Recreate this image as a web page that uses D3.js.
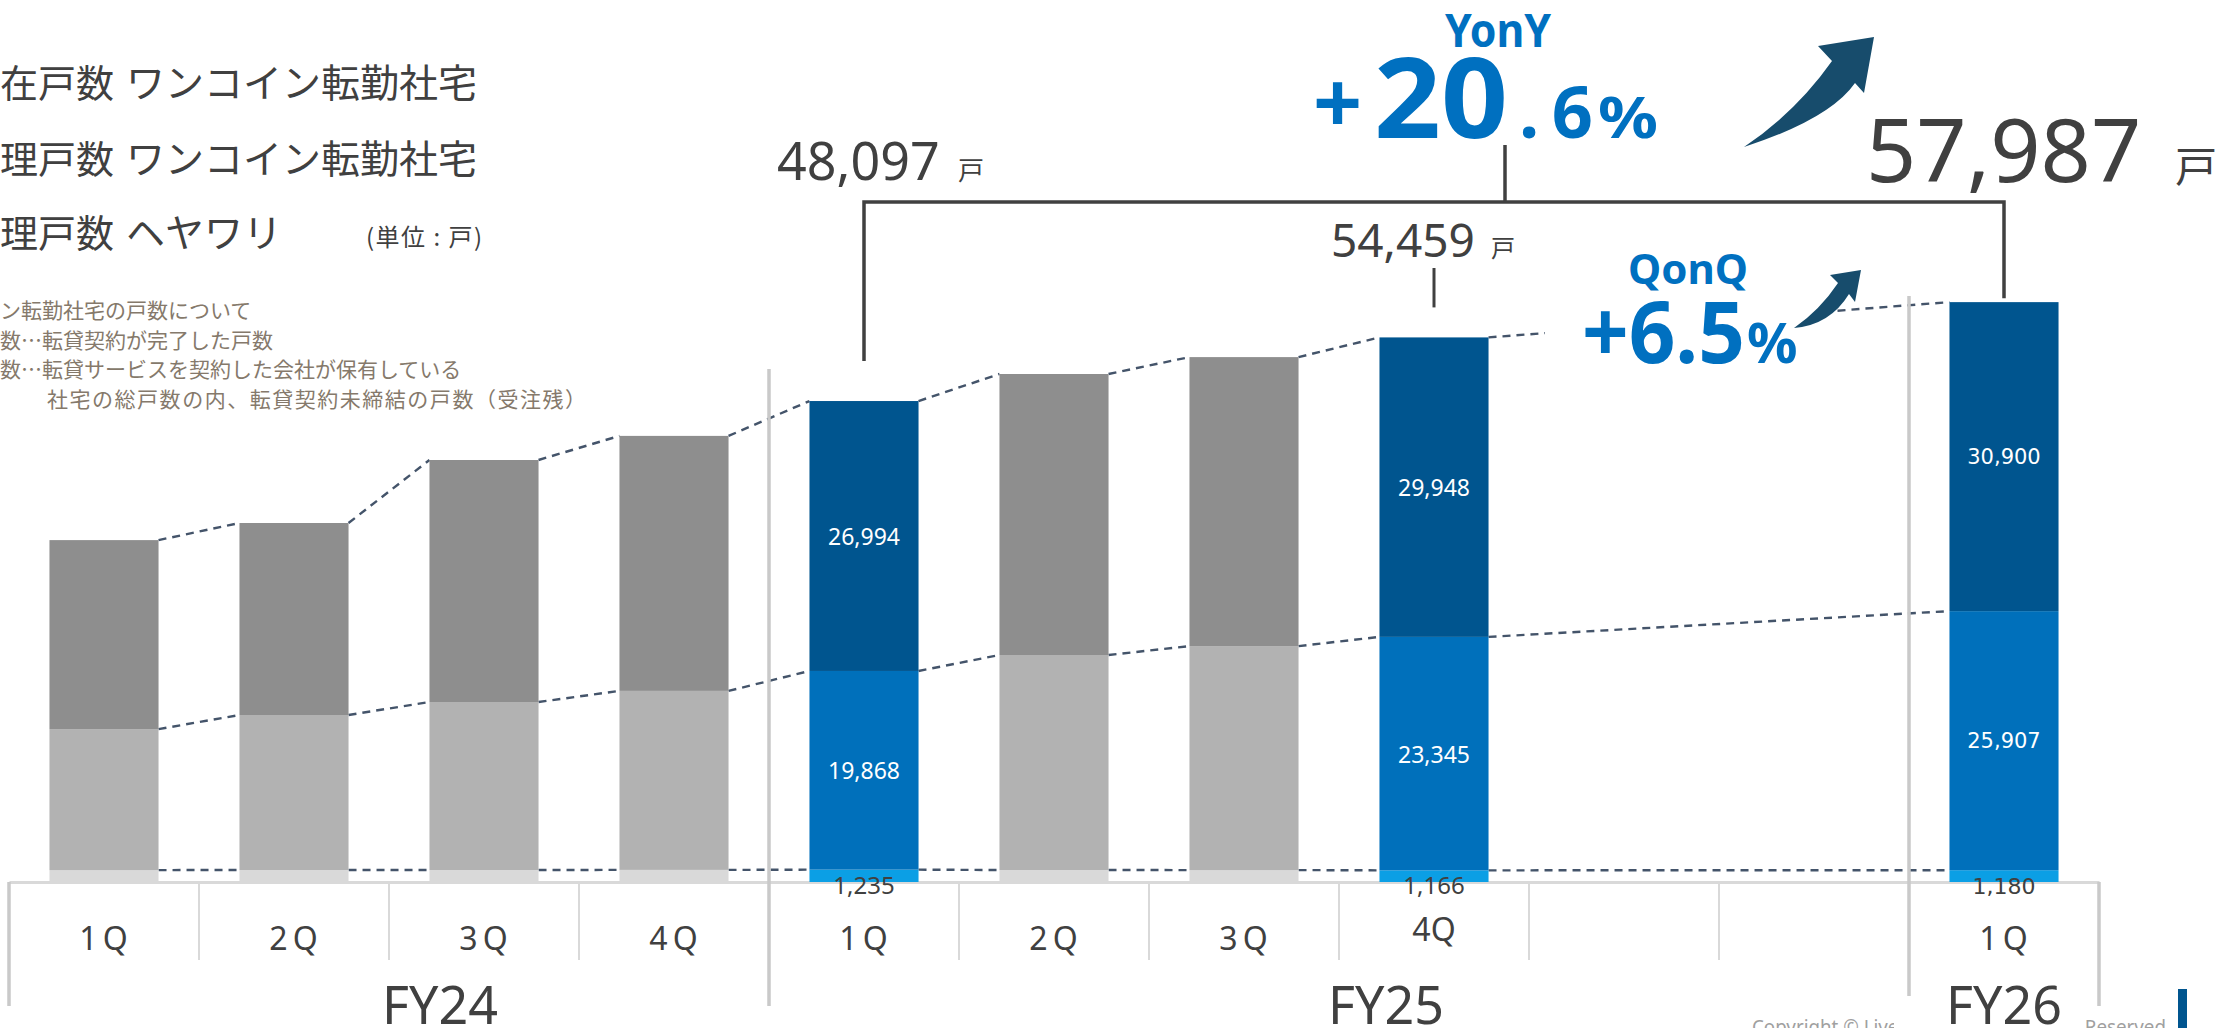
<!DOCTYPE html>
<html>
<head>
<meta charset="utf-8">
<script src="https://cdn.jsdelivr.net/npm/d3@7"></script>
<style>
  html, body { margin: 0; padding: 0; background: #ffffff; }
  svg { display: block; }
</style>
</head>
<body>
<svg id="chart" width="2225" height="1028"></svg>
<script>
// ---- data -------------------------------------------------------------
// one slot per quarter; FY25 has two empty trailing slots before FY26
const slotKeys = ["FY24-1Q","FY24-2Q","FY24-3Q","FY24-4Q",
                  "FY25-1Q","FY25-2Q","FY25-3Q","FY25-4Q","FY25-x1","FY25-x2",
                  "FY26-1Q"];
const quarterLabels = ["1Q","2Q","3Q","4Q","1Q","2Q","3Q","4Q","","","1Q"];
const fiscalYears = ["FY24","FY25","FY26"];
const fiscalYearFirstSlot = [0, 4, 10];

// 管理戸数 ヘヤワリ (bottom)
const heyawariUnits  = [1190, 1200, 1200, 1210, 1235, 1200, 1190, 1166, null, null, 1180];
// 管理戸数 ワンコイン転勤社宅 (middle)
const managedUnits   = [14100, 15500, 16800, 17900, 19868, 21500, 22400, 23345, null, null, 25907];
// 潜在戸数 ワンコイン転勤社宅 (top)
const potentialUnits = [18900, 19200, 24200, 25500, 26994, 28100, 28900, 29948, null, null, 30900];
// quarters drawn in colour and labelled
const highlighted = [false, false, false, false, true, false, false, true, false, false, true];

const legendItems = ["在戸数\u3000ワンコイン転勤社宅", "理戸数\u3000ワンコイン転勤社宅", "理戸数\u3000ヘヤワリ"];
const noteLines = ["ン転勤社宅の戸数について",
                   "数…転貸契約が完了した戸数",
                   "数…転貸サービスを契約した会社が保有している",
                   "社宅の総戸数の内、転貸契約未締結の戸数（受注残）"];
const footerText = "Copyright © Livero Co., Ltd. All Rights Reserved.";

// ---- setup ------------------------------------------------------------
const svg = d3.select("#chart");
const LATIN = "'Noto Sans', 'Noto Sans CJK JP', sans-serif";
const JP = "'Noto Sans CJK JP', 'Noto Sans', sans-serif";
const TEXT = "#404040";
const ACCENT = "#0070c0";

const x = d3.scaleBand().domain(slotKeys).range([9, 2099])
  .paddingInner(0.426).paddingOuter(0.213);
const y = d3.scaleLinear().domain([0, 60000]).range([882, 282]);
const bw = x.bandwidth();
const slotEdge = i => x.range()[0] + i * x.step();

const seriesValues = [heyawariUnits, managedUnits, potentialUnits];
const grayFill = ["#d9d9d9", "#b2b2b2", "#8e8e8e"];
const blueFill = ["#0b9fe5", "#0070bb", "#00558f"];

// stacked rows per slot
const bars = slotKeys.map((key, i) => {
  if (heyawariUnits[i] == null) return null;
  let acc = 0;
  const segs = seriesValues.map((vals, s) => {
    const y0 = acc; acc += vals[i];
    return { key, i, s, value: vals[i], y0, y1: acc };
  });
  return { key, i, segs, total: acc };
}).filter(d => d);

// ---- footer (mostly hidden behind the FY26 label) ------------------------
svg.append("text").attr("x", 1752).attr("y", 1034).attr("font-family", LATIN)
  .attr("font-size", 19).attr("fill", "#a0a0a0").attr("textLength", 419)
  .attr("lengthAdjust", "spacingAndGlyphs").text(footerText);

// ---- dashed connectors between neighbouring bars -----------------------
const gConn = svg.append("g");
for (let b = 0; b < bars.length - 1; b++) {
  const a = bars[b], c = bars[b + 1];
  for (let s = 0; s < 3; s++) {
    gConn.append("line")
      .attr("x1", x(a.key) + bw).attr("y1", y(a.segs[s].y1))
      .attr("x2", x(c.key)).attr("y2", y(c.segs[s].y1))
      .attr("stroke", "#44546a").attr("stroke-width", 2.4)
      .attr("stroke-dasharray", "8,6");
  }
}

// ---- category axis -----------------------------------------------------
const axis = d3.axisBottom(x).tickSize(0).tickPadding(0)
  .tickFormat((d, i) => quarterLabels[i]);
const gAxis = svg.append("g").attr("transform", `translate(0,${y(0)})`).call(axis);
gAxis.select(".domain").attr("stroke", "#d9d9d9").attr("stroke-width", 3);
gAxis.selectAll(".tick text")
  .attr("font-family", LATIN).attr("font-size", 32).attr("fill", TEXT)
  .attr("y", (d, i) => i === 7 ? 59 : 68)
  .attr("dy", null)
  .attr("letter-spacing", (d, i) => i === 7 ? 0 : 5)
  .attr("dx", (d, i) => i === 7 ? 0 : 2);

// thin separators between quarters
const thinIdx = d3.range(1, 11).filter(i => !fiscalYearFirstSlot.includes(i));
svg.append("g").selectAll("line").data(thinIdx).join("line")
  .attr("x1", i => slotEdge(i)).attr("x2", i => slotEdge(i))
  .attr("y1", y(0)).attr("y2", y(0) + 78)
  .attr("stroke", "#d9d9d9").attr("stroke-width", 2);

// fiscal-year borders
const borders = [
  { i: 0,  top: y(0) },
  { i: 4,  top: 369 },
  { i: 10, top: 296 },
  { i: 11, top: y(0) }
];
svg.append("g").selectAll("line").data(borders).join("line")
  .attr("x1", d => slotEdge(d.i)).attr("x2", d => slotEdge(d.i))
  .attr("y1", d => d.top).attr("y2", y(0) + 124)
  .attr("stroke", "#c9c9c9").attr("stroke-width", 3.5);

// ---- bars ----------------------------------------------------------------
const gBars = svg.append("g");
bars.forEach(b => {
  gBars.selectAll(null).data(b.segs).join("rect")
    .attr("x", x(b.key)).attr("width", bw)
    .attr("y", d => y(d.y1)).attr("height", d => y(d.y0) - y(d.y1))
    .attr("fill", d => (highlighted[b.i] ? blueFill : grayFill)[d.s]);
});

// value labels inside highlighted bars
const fmt = d3.format(",");
bars.filter(b => highlighted[b.i]).forEach(b => {
  const wide = b.i === 10;
  const fam = wide ? "'DejaVu Sans', sans-serif" : LATIN;
  b.segs.forEach(d => {
    const cx = x(b.key) + bw / 2;
    if (d.s === 0) {
      svg.append("text").attr("x", cx).attr("y", y(d.y0) + 12)
        .attr("text-anchor", "middle").attr("font-family", fam)
        .attr("font-size", wide ? 22 : 24).attr("fill", TEXT).text(fmt(d.value));
    } else {
      svg.append("text").attr("x", cx).attr("y", (y(d.y0) + y(d.y1)) / 2)
        .attr("dominant-baseline", "central")
        .attr("text-anchor", "middle").attr("font-family", fam)
        .attr("font-size", wide ? 21 : 23).attr("fill", "#ffffff").text(fmt(d.value));
    }
  });
});

// fiscal-year labels
const fyCenter = [440, 1386, 2004];
fiscalYears.forEach((fy, k) => {
  const cx = fyCenter[k];
  if (k === 2) {
    svg.append("rect").attr("x", 1894).attr("y", 996).attr("width", 188).attr("height", 32).attr("fill", "#fff");
  }
  svg.append("text").attr("x", cx).attr("y", 1024).attr("text-anchor", "middle")
    .attr("font-family", LATIN).attr("font-size", 52).attr("fill", TEXT).text(fy);
});

// ---- totals and growth ------------------------------------------------------
const byKey = Object.fromEntries(bars.map(b => [b.key, b]));
const prevYear = byKey["FY25-1Q"], prevQuarter = byKey["FY25-4Q"], current = byKey["FY26-1Q"];
const cxOf = b => x(b.key) + bw / 2;

function totalLabel(b, xs, base, size, unitX, unitSize) {
  svg.append("text").attr("x", xs).attr("y", base).attr("font-family", LATIN)
    .attr("font-size", size).attr("fill", TEXT).text(fmt(b.total));
  svg.append("text").attr("x", unitX).attr("y", base).attr("font-family", JP)
    .attr("font-size", unitSize).attr("fill", TEXT).text("戸");
}
totalLabel(prevYear, 777, 180, 52, 958, 26);
totalLabel(prevQuarter, 1331, 257, 46, 1491, 24);
totalLabel(current, 1866, 182, 88, 2175, 42);

// bracket from FY25 1Q to FY26 1Q
const bracketY = 202;
svg.append("path")
  .attr("d", `M${cxOf(prevYear)},${y(prevYear.total) - 40}V${bracketY}H${cxOf(current)}V${y(current.total) - 4}`)
  .attr("fill", "none").attr("stroke", TEXT).attr("stroke-width", 3.5);
svg.append("line").attr("x1", 1505).attr("x2", 1505).attr("y1", 145).attr("y2", bracketY)
  .attr("stroke", TEXT).attr("stroke-width", 3.5);
svg.append("line").attr("x1", cxOf(prevQuarter)).attr("x2", cxOf(prevQuarter))
  .attr("y1", 268).attr("y2", y(prevQuarter.total) - 30)
  .attr("stroke", TEXT).attr("stroke-width", 3);

const yoy = (current.total / prevYear.total - 1) * 100;
const qoq = (current.total / prevQuarter.total - 1) * 100;
const yoyParts = yoy.toFixed(1).split(".");
const qoqText = qoq.toFixed(1);

// YonY
svg.append("text").attr("x", 1498).attr("y", 47).attr("text-anchor", "middle")
  .attr("font-family", LATIN).attr("font-weight", 700).attr("font-size", 46)
  .attr("fill", ACCENT).attr("textLength", 106).attr("lengthAdjust", "spacingAndGlyphs").text("YonY");
const yoyBase = 138;
svg.append("text").attr("x", 1313).attr("y", yoyBase - 4).attr("font-family", LATIN).attr("font-weight", 700)
  .attr("font-size", 86).attr("fill", ACCENT).text("+");
svg.append("text").attr("x", 1374).attr("y", yoyBase).attr("font-family", LATIN).attr("font-weight", 700)
  .attr("font-size", 112).attr("fill", ACCENT).attr("textLength", 134).attr("lengthAdjust", "spacingAndGlyphs")
  .text(yoyParts[0]);
svg.append("text").attr("x", 1519).attr("y", yoyBase).attr("font-family", LATIN).attr("font-weight", 700)
  .attr("font-size", 72).attr("fill", ACCENT).attr("textLength", 74).attr("lengthAdjust", "spacing")
  .text("." + yoyParts[1]);
svg.append("text").attr("x", 1598).attr("y", yoyBase).attr("font-family", LATIN).attr("font-weight", 700)
  .attr("font-size", 58).attr("fill", ACCENT).attr("textLength", 60).attr("lengthAdjust", "spacingAndGlyphs").text("%");

// QonQ (white backing breaks the dashed line behind it)
svg.append("rect").attr("x", 1545).attr("y", 240).attr("width", 285).attr("height", 130).attr("fill", "#fff");
svg.append("text").attr("x", 1688).attr("y", 284).attr("text-anchor", "middle")
  .attr("font-family", LATIN).attr("font-weight", 700).attr("font-size", 42)
  .attr("fill", ACCENT).text("QonQ");
svg.append("text").attr("x", 1582).attr("y", 363).attr("font-family", LATIN).attr("font-weight", 700)
  .attr("font-size", 86).attr("fill", ACCENT).attr("textLength", 163).attr("lengthAdjust", "spacingAndGlyphs")
  .text("+" + qoqText);
svg.append("text").attr("x", 1747).attr("y", 363).attr("font-family", LATIN).attr("font-weight", 700)
  .attr("font-size", 56).attr("fill", ACCENT).text("%");

// sweeping arrows
const arrowColor = "#174c6c";
function arrow(p) {
  const path = d3.path();
  path.moveTo(...p.tail);
  path.quadraticCurveTo(...p.c1, ...p.n1);
  path.lineTo(...p.h1);
  path.lineTo(...p.tip);
  path.lineTo(...p.h2);
  path.lineTo(...p.n2);
  path.quadraticCurveTo(...p.c2, ...p.tail);
  path.closePath();
  svg.append("path").attr("d", path.toString()).attr("fill", arrowColor);
}
arrow({ tail: [1744, 147], c1: [1796, 112], n1: [1832, 61], h1: [1818, 46],
        tip: [1874, 37], h2: [1864, 93], n2: [1855, 83], c2: [1830, 119] });
arrow({ tail: [1794, 328], c1: [1820, 310], n1: [1838, 283], h1: [1830, 275],
        tip: [1861, 270], h2: [1855, 302], n2: [1849, 294], c2: [1830, 325] });

// ---- legend text and notes --------------------------------------------------
legendItems.forEach((t, k) => {
  const [head, name] = t.split("\u3000");
  const base = [97, 173, 247][k];
  svg.append("text").attr("x", 0).attr("y", base).attr("font-family", JP)
    .attr("font-size", 38).attr("fill", TEXT).text(head);
  svg.append("text").attr("x", 126).attr("y", base).attr("font-family", JP)
    .attr("font-size", 39).attr("fill", TEXT).text(name);
});
svg.append("text").attr("x", 366).attr("y", 246).attr("font-family", JP)
  .attr("font-size", 24).attr("fill", TEXT).attr("textLength", 116).text("(単位 : 戸)");

noteLines.forEach((t, k) => {
  const indent = k === 3 ? 47 : 0;
  const txt = svg.append("text").attr("x", indent).attr("y", 318 + k * 29.5).attr("font-family", JP)
    .attr("font-size", 21).attr("fill", "#85796b").text(t);
  if (k === 3) txt.attr("textLength", 539);
});

// page tab
svg.append("rect").attr("x", 2178).attr("y", 989).attr("width", 9).attr("height", 39).attr("fill", "#00558f");
</script>
</body>
</html>
